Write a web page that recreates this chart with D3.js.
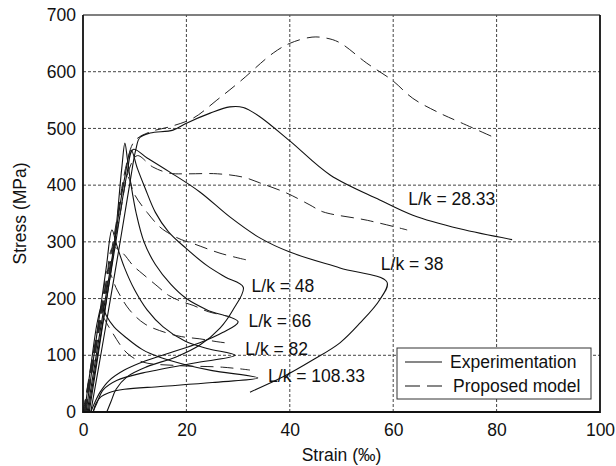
<!DOCTYPE html>
<html>
<head>
<meta charset="utf-8">
<script src="https://cdn.jsdelivr.net/npm/d3@7"></script>
<style>
  html, body { margin: 0; padding: 0; background: #fff; }
  svg { display: block; }
  text { font-family: "Liberation Sans", Arial, Helvetica, sans-serif; fill: #111; }
</style>
</head>
<body>
<svg id="chart" width="616" height="466"></svg>
<script>
// Axis ticks
const xTicks = [0, 20, 40, 60, 80, 100];
const yTicks = [0, 100, 200, 300, 400, 500, 600, 700];

// Experimental curves: [strain ‰, stress MPa]
const exp2833 = [[1.5,0],[4,130],[7,290],[9,400],[10.2,462],[11,484],[13,492],[17.4,497],[19.7,508],[24.6,527],[28.4,538],[31,537],[34,522],[40,478],[47.8,418],[57.4,374],[63.8,347],[72.9,323],[83,304]];
const exp38 = [[1,0],[3.5,140],[6,280],[8.5,420],[9.7,463],[12.4,448],[16.8,423],[22.6,388],[28.4,344],[34.2,307],[40,282],[49.7,254],[58.8,229],[57.4,198],[53.6,157],[49.7,122],[44.5,92],[38.7,62],[32.3,35]];
const exp48 = [[0.8,0],[3,125],[5.5,265],[8,410],[9.3,462],[10.5,430],[12,395],[14,352],[16.5,318],[20,288],[24,258],[27.5,238],[31,220],[29,180],[26.5,148],[22.6,118],[18,97],[12.4,80],[8.5,62],[6.4,40],[5.4,18],[4.6,0]];
const exp66 = [[1.2,0],[3.5,135],[6,290],[7.5,430],[8.1,474],[8.6,445],[9.3,400],[10.3,350],[11.8,300],[14,260],[17,225],[20,200],[24,180],[30,159],[27,140],[22.6,122],[17,105],[12,90],[8,74],[5,55],[3.3,35],[2.2,15],[1.5,0]];
const exp82 = [[0.6,0],[2.5,125],[4.5,255],[5.6,321],[6.5,295],[8,255],[10,215],[12.4,180],[15.5,150],[19.7,125],[24,112],[29.4,100],[21.3,86],[11.6,69],[6.6,56],[3.9,39],[2.7,16],[1.9,0]];
const exp108 = [[0.3,0],[1.5,80],[2.8,160],[3.7,188],[4.5,170],[6,150],[8.5,130],[11.5,110],[15,96],[20,83],[25,73],[33.8,60],[25,52],[15,45],[8,40],[5,34],[3.5,27],[2.5,15],[2,0]];

// Proposed model curves
const mod2833 = [[0,0],[3,150],[6,310],[8.5,440],[10,478],[13,494],[16.8,503],[21.3,518],[25.9,550],[30.4,583],[36.8,633],[40,650],[44.3,661],[47.2,659],[49.7,651],[54.9,615],[59.8,585],[63.8,553],[69,527],[72.9,511],[79.3,485]];
const mod38 = [[0.5,0],[4,190],[7,340],[9,430],[10.5,452],[13.5,432],[16.8,421],[20,420],[26,420],[31,414],[34.2,404],[39.4,386],[43.9,365],[46.4,353],[55,338],[62.7,321]];
const mod48 = [[0.4,0],[3,140],[6,300],[7.8,400],[8.6,415],[10,383],[12.4,352],[14.9,326],[17,313],[19,304],[21.3,297],[26.5,280],[31.7,268]];
const mod66 = [[0.3,0],[2.5,120],[4.5,230],[5.8,290],[7.7,280],[9.7,258],[11.6,243],[14.5,221],[16.5,206],[19.3,194],[21.3,188],[24.2,177],[28.5,168]];
const mod82 = [[0.2,0],[2,100],[3.8,200],[4.8,250],[6.6,215],[9,180],[12,155],[16,140],[19,133],[22.6,129],[25.9,124],[28.4,121]];
const mod108 = [[0.1,0],[1.5,80],[3,150],[3.6,170],[5,150],[8.5,104],[11.6,88],[18,82],[27,79],[32.3,74]];

const labels = [
  { text: "L/k = 28.33", x: 62.9, y: 376 },
  { text: "L/k = 38",    x: 57.6, y: 262 },
  { text: "L/k = 48",    x: 32.6, y: 223 },
  { text: "L/k = 66",    x: 32.0, y: 160 },
  { text: "L/k = 82",    x: 31.4, y: 111 },
  { text: "L/k = 108.33",x: 35.8, y: 63 }
];

const svg = d3.select("#chart");
const margin = { left: 83, right: 16, top: 15, bottom: 54 };
const W = 616, H = 466;
const x = d3.scaleLinear().domain([0, 100]).range([margin.left, W - margin.right]);
const y = d3.scaleLinear().domain([0, 700]).range([H - margin.bottom, margin.top]);

// grid
const grid = svg.append("g");
grid.selectAll("line.gx").data(xTicks.slice(1, -1)).enter().append("line")
  .attr("x1", d => x(d)).attr("x2", d => x(d))
  .attr("y1", y(0)).attr("y2", y(700))
  .attr("stroke", "#444").attr("stroke-width", 1).attr("stroke-dasharray", "3,2");
grid.selectAll("line.gy").data(yTicks.slice(1, -1)).enter().append("line")
  .attr("y1", d => y(d)).attr("y2", d => y(d))
  .attr("x1", x(0)).attr("x2", x(100))
  .attr("stroke", "#444").attr("stroke-width", 1).attr("stroke-dasharray", "3,2");

// curves
const line = d3.line().x(d => x(d[0])).y(d => y(d[1])).curve(d3.curveCatmullRom.alpha(0.5));
const plot = svg.append("g");
const expCurves = [exp2833, exp38, exp48, exp66, exp82, exp108];
const modCurves = [mod2833, mod38, mod48, mod66, mod82, mod108];
plot.selectAll("path.exp").data(expCurves).enter().append("path")
  .attr("d", line).attr("fill", "none").attr("stroke", "#111").attr("stroke-width", 1.1);
plot.selectAll("path.mod").data(modCurves).enter().append("path")
  .attr("d", line).attr("fill", "none").attr("stroke", "#222").attr("stroke-width", 1)
  .attr("stroke-dasharray", "13,7");

// frame: light top edge, heavier left/bottom/right edges
const fx0 = x(0), fx1 = x(100), fy0 = y(0), fy1 = y(700);
svg.append("line").attr("x1", fx0).attr("x2", fx1).attr("y1", fy1).attr("y2", fy1)
  .attr("stroke", "#555").attr("stroke-width", 1.3);
svg.append("path").attr("d", `M${fx0},${fy1}V${fy0}H${fx1}V${fy1}`)
  .attr("fill", "none").attr("stroke", "#111").attr("stroke-width", 1.8);

// axes
const xAxis = d3.axisBottom(x).tickValues(xTicks).tickSize(0).tickPadding(12);
const yAxis = d3.axisLeft(y).tickValues(yTicks).tickSize(0).tickPadding(7);
const gx = svg.append("g").attr("transform", `translate(0,${y(0)})`).call(xAxis);
const gy = svg.append("g").attr("transform", `translate(${x(0)},0)`).call(yAxis);
[gx, gy].forEach(g => {
  g.select(".domain").remove();
  g.selectAll("text").style("font-size", "17.5px").style("font-family", "'Liberation Sans', Arial, sans-serif").attr("fill", "#111");
});

// axis titles
svg.append("text").attr("x", x(50)).attr("y", 461).attr("text-anchor", "middle")
  .style("font-size", "17.5px").text("Strain (‰)");
svg.append("text").attr("transform", `translate(26,${(y(0) + y(700)) / 2}) rotate(-90)`)
  .attr("text-anchor", "middle").style("font-size", "17.5px").text("Stress (MPa)");

// curve labels
svg.selectAll("text.lab").data(labels).enter().append("text")
  .attr("x", d => x(d.x)).attr("y", d => y(d.y)).attr("dy", "0.35em")
  .style("font-size", "17.5px").text(d => d.text);

// legend
const lg = svg.append("g");
lg.append("rect").attr("x", 397).attr("y", 348).attr("width", 194).attr("height", 51)
  .attr("fill", "#fff").attr("stroke", "#333").attr("stroke-width", 1);
lg.append("line").attr("x1", 405).attr("x2", 442).attr("y1", 362).attr("y2", 362)
  .attr("stroke", "#111").attr("stroke-width", 1.1);
lg.append("line").attr("x1", 405).attr("x2", 442).attr("y1", 386).attr("y2", 386)
  .attr("stroke", "#111").attr("stroke-width", 1.1).attr("stroke-dasharray", "15,7");
lg.append("text").attr("x", 450).attr("y", 362).attr("dy", "0.35em").style("font-size", "17.5px").text("Experimentation");
lg.append("text").attr("x", 453).attr("y", 386).attr("dy", "0.35em").style("font-size", "17.5px").text("Proposed model");
</script>
</body>
</html>
